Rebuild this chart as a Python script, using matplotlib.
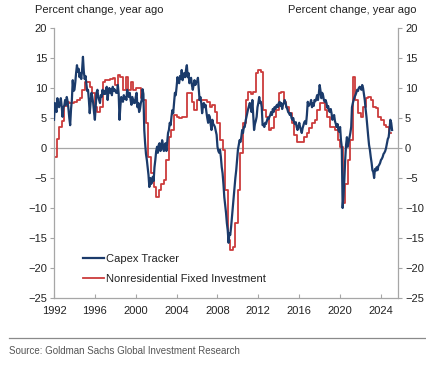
import matplotlib
matplotlib.use("Agg")
import matplotlib.pyplot as plt
import matplotlib.dates as mdates
import pandas as pd
import numpy as np

plt.rcParams['font.family'] = ['Liberation Sans', 'DejaVu Sans']

# Capex Tracker, monthly, Jan 1992 onward (% yoy)
capex_tracker = [
    4.7, 7.5, 6.5, 6.0, 8.3, 7.2, 6.8, 7.5, 8.3, 7.0, 5.2, 6.8,      # 1992
    7.0, 8.0, 7.2, 8.5, 7.8, 6.5, 5.0, 3.8, 6.5, 8.0, 11.3, 9.5,     # 1993
    9.7, 11.0, 12.5, 13.8, 12.7, 13.2, 11.8, 12.5, 11.5, 13.0, 15.2, 12.8,  # 1994
    11.5, 12.0, 10.8, 9.5, 9.7, 8.0, 5.8, 7.5, 9.2, 8.5, 7.5, 6.0,   # 1995
    4.7, 7.0, 9.2, 9.7, 8.5, 8.0, 7.5, 8.8, 8.5, 9.7, 9.0, 9.5,      # 1996
    9.0, 9.8, 10.2, 8.0, 9.5, 10.0, 9.2, 9.8, 8.8, 10.2, 9.5, 9.8,   # 1997
    9.5, 9.2, 9.2, 10.5, 9.0, 4.7, 7.0, 8.5, 8.0, 7.7, 8.8, 8.2,     # 1998
    8.5, 8.0, 9.7, 9.0, 8.5, 9.2, 8.0, 7.2, 8.5, 8.0, 7.5, 7.5,      # 1999
    8.5, 9.2, 6.8, 7.5, 6.0, 6.5, 7.5, 8.0, 9.8, 9.0, 3.0, 0.8,      # 2000
    -1.0, -2.0, -3.2, -4.5, -6.5, -5.0, -6.0, -5.8, -4.8, -5.5, -3.2, -2.0,  # 2001
    -0.5, 0.2, -0.8, 0.5, 0.8, -0.5, -0.3, 1.3, 0.5, -0.5, -0.3, 0.8,  # 2002
    -0.5, 1.0, 2.5, 3.0, 4.2, 3.8, 5.2, 6.3, 5.8, 7.5, 9.2, 8.8,     # 2003
    10.2, 11.8, 11.0, 10.8, 12.0, 11.5, 13.0, 11.3, 12.0, 12.5, 11.8, 13.0,  # 2004
    13.8, 11.8, 12.5, 10.8, 11.5, 11.7, 10.5, 9.7, 10.5, 11.3, 10.5, 11.0,  # 2005
    11.0, 11.7, 10.0, 8.0, 8.5, 7.5, 5.8, 7.0, 7.5, 6.8, 7.2, 6.0,   # 2006
    5.0, 4.2, 5.5, 5.2, 4.0, 3.0, 4.7, 4.0, 3.8, 3.5, 2.8, 2.2,      # 2007
    0.2, -0.5, -0.8, -0.3, -1.5, -3.2, -4.2, -6.0, -8.2, -9.5, -10.8, -12.5,  # 2008
    -13.7, -15.8, -14.2, -14.5, -13.2, -11.5, -9.8, -8.0, -6.5, -5.0, -3.7, -2.0,  # 2009
    -0.3, 0.5, 1.3, 1.0, 1.8, 3.0, 2.5, 3.5, 3.5, 4.5, 5.2, 5.8,     # 2010
    6.5, 7.0, 7.5, 6.8, 6.0, 8.0, 5.5, 3.0, 4.0, 4.5, 5.2, 6.8,      # 2011
    7.5, 8.5, 7.5, 7.7, 6.8, 3.8, 4.0, 3.5, 4.2, 4.0, 4.5, 5.0,      # 2012
    4.8, 5.2, 5.5, 6.0, 5.5, 6.5, 6.0, 6.8, 6.5, 7.0, 7.2, 6.8,      # 2013
    7.5, 7.7, 7.0, 7.5, 6.5, 7.2, 7.5, 8.0, 7.5, 6.8, 6.5, 6.0,      # 2014
    5.8, 5.5, 5.8, 5.0, 4.7, 5.0, 4.3, 4.0, 4.3, 3.5, 3.0, 3.5,      # 2015
    4.2, 3.5, 3.0, 2.5, 3.3, 3.8, 4.3, 4.5, 4.0, 5.5, 7.7, 7.0,      # 2016
    7.2, 7.5, 8.0, 6.8, 7.5, 7.0, 8.0, 7.8, 8.2, 8.8, 8.0, 9.0,      # 2017
    10.5, 9.5, 8.3, 9.2, 8.8, 8.0, 7.7, 8.0, 7.5, 6.7, 7.0, 6.2,     # 2018
    6.0, 6.5, 5.8, 4.7, 5.0, 5.5, 4.5, 4.0, 3.5, 4.0, 3.0, 2.7,      # 2019
    3.5, 1.3, 0.2, -10.0, -8.0, -5.3, -2.0, 0.5, 1.8, 0.2, 1.0, 1.8,  # 2020
    2.5, 3.5, 6.8, 7.5, 8.0, 8.5, 8.8, 9.2, 9.7, 9.5, 10.0, 10.2,    # 2021
    10.0, 9.7, 10.5, 10.0, 9.0, 8.0, 6.5, 5.2, 3.5, 2.0, 0.5, -0.3,  # 2022
    -1.5, -2.5, -3.7, -4.0, -5.0, -3.5, -3.8, -3.2, -3.7, -3.0, -2.8, -2.5,  # 2023
    -2.0, -1.8, -1.5, -1.0, -0.8, -0.5, 0.0, 0.8, 1.5, 1.8, 3.0, 4.7,  # 2024
    4.2, 3.0,                                                         # 2025
]

# Nonresidential Fixed Investment, quarterly, 1992Q1 onward (% yoy)
nonres_fixed_inv = [
    -1.5, 1.5, 3.5, 4.5,
    7.0, 7.7, 7.5, 7.5,
    7.7, 8.0, 8.3, 9.7,
    11.0, 11.0, 10.2, 9.2,
    6.8, 6.0, 6.8, 11.0,
    11.3, 11.3, 11.5, 11.7,
    10.5, 12.2, 11.8, 9.7,
    11.8, 9.7, 11.0, 9.7,
    10.0, 10.0, 8.3, 8.0,
    4.2, -1.5, -4.2, -6.5,
    -8.2, -7.0, -6.0, -5.3,
    -2.0, 1.8, 3.0, 5.5,
    5.2, 5.0, 5.2, 5.2,
    9.2, 9.2, 7.7, 6.3,
    8.0, 8.0, 8.0, 8.0,
    7.7, 6.8, 7.2, 6.0,
    4.2, 1.3, -0.3, -7.0,
    -15.3, -17.0, -16.5, -12.5,
    -7.0, -0.8, 4.2, 8.0,
    9.3, 9.0, 9.3, 12.5,
    13.0, 12.7, 6.3, 5.2,
    3.0, 3.3, 5.2, 6.3,
    9.2, 9.3, 7.7, 6.8,
    5.8, 4.2, 2.2, 1.0,
    1.0, 1.0, 1.8, 2.5,
    3.3, 4.2, 4.7, 6.3,
    7.5, 7.5, 6.3, 5.2,
    3.5, 3.5, 3.0, 1.3,
    0.2, -9.2, -6.0, -2.0,
    1.3, 11.8, 8.0, 5.8,
    5.2, 6.8, 8.3, 8.5,
    8.0, 6.8, 6.7, 5.2,
    4.7, 3.8, 3.5, 2.5,
]

series_names = ["Capex Tracker", "Nonresidential Fixed Investment"]
y_label = "Percent change, year ago"
source = "Source: Goldman Sachs Global Investment Research"

blue = "#1b3b6b"
red = "#cc3b3b"
grey = "#a6a6a6"
txt = "#222222"

m_dates = pd.date_range("1992-01-01", periods=len(capex_tracker), freq="MS")
q_dates = pd.date_range("1992-01-01", periods=len(nonres_fixed_inv) + 1, freq="QS")
q_vals = nonres_fixed_inv + [nonres_fixed_inv[-1]]

fig = plt.figure(figsize=(4.26, 3.66), dpi=100)
ax = fig.add_axes([54 / 426, 1 - 298 / 366, (398 - 54) / 426, (298 - 28) / 366])

ax.axhline(0, color=grey, lw=0.9, zorder=1)
ax.plot(q_dates, q_vals, drawstyle="steps-post", color=red, lw=1.3,
        label=series_names[1], zorder=2)
ax.plot(m_dates, capex_tracker, color=blue, lw=1.6, label=series_names[0], zorder=3)

ax.set_ylim(-25, 20)
ax.set_yticks(np.arange(-25, 21, 5))
ax.set_xlim(pd.Timestamp("1992-01-01"), pd.Timestamp("2025-09-01"))
ax.xaxis.set_major_locator(mdates.YearLocator(4))
ax.xaxis.set_major_formatter(mdates.DateFormatter("%Y"))

ax.spines["top"].set_visible(False)
for s in ["left", "right", "bottom"]:
    ax.spines[s].set_color(grey)
    ax.spines[s].set_linewidth(0.9)

ax.tick_params(axis="y", which="both", left=True, right=True, labelleft=True,
               labelright=True, direction="out", length=3, width=0.8,
               color=grey, labelsize=8, labelcolor=txt, pad=2)
ax.tick_params(axis="x", direction="in", length=3, width=0.8, color=grey,
               labelsize=8, labelcolor=txt, pad=6)

h, l = ax.get_legend_handles_labels()
leg = ax.legend([h[1], h[0]], [l[1], l[0]], loc="lower left",
                bbox_to_anchor=(0.07, 0.035), frameon=False, fontsize=8,
                handlelength=1.9, handletextpad=0.2, labelspacing=0.95,
                borderaxespad=0)
for t in leg.get_texts():
    t.set_color(txt)

fig.text(35 / 426, 1 - 10 / 366, y_label, ha="left", va="center", fontsize=8, color=txt)
fig.text(417 / 426, 1 - 10 / 366, y_label, ha="right", va="center", fontsize=8, color=txt)

fig.add_artist(plt.Line2D([9 / 426, 1.0], [1 - 338 / 366, 1 - 338 / 366],
                          transform=fig.transFigure, color="#8a8a8a", lw=0.9))
fig.text(9 / 426, 1 - 351 / 366, source, ha="left", va="center", fontsize=7,
         color="#555555", family=["Liberation Sans Narrow", "Liberation Sans", "DejaVu Sans"])

fig.savefig("out.png", dpi=100)
